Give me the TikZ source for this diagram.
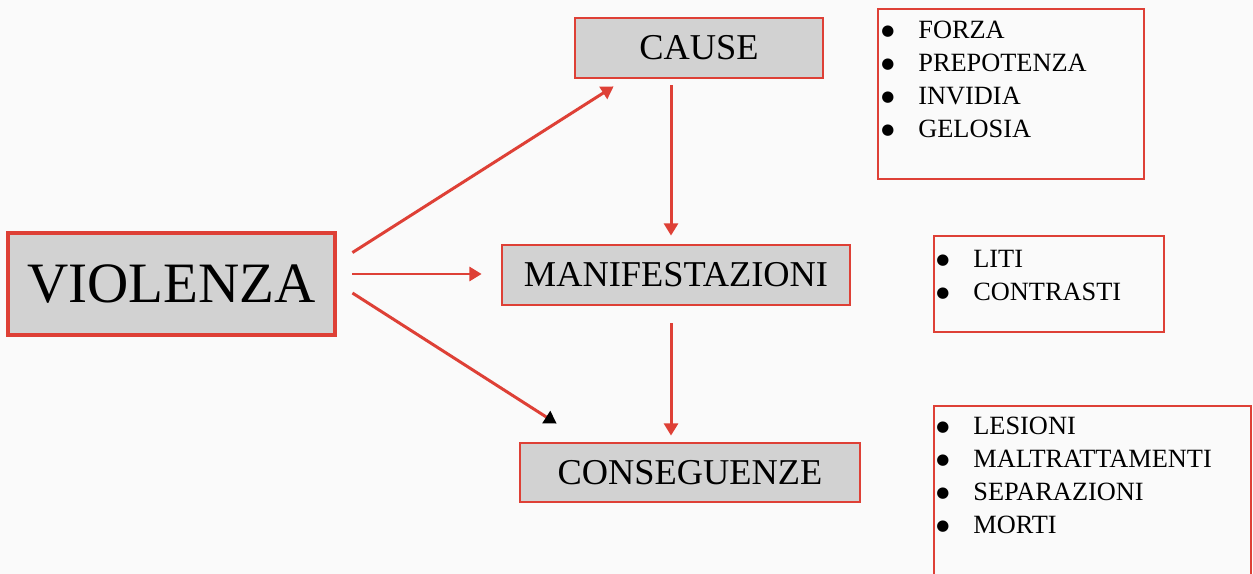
\documentclass[tikz,border=0pt]{standalone}
\usepackage{fontspec}
\setmainfont{Liberation Serif}
\newfontfamily\symfont{DejaVu Sans}
\usetikzlibrary{arrows.meta,calc,positioning}
\definecolor{boxred}{RGB}{222,64,54}
\definecolor{boxgray}{RGB}{210,210,210}
\definecolor{paper}{RGB}{250,250,250}
\newcommand{\bigdot}{\raisebox{1.6pt}{\symfont\fontsize{8.5}{10}\selectfont ●}}

\begin{document}
\begin{tikzpicture}[x=0.02cm,y=-0.02cm,
  titlebox/.style={draw=boxred,fill=boxgray,line width=1.6pt,inner sep=0pt,
    font=\fontsize{20.7}{24}\selectfont},
  listbox/.style={draw=boxred,line width=1.2pt,inner sep=0pt,anchor=north west},
  listtext/.style={anchor=north west,inner sep=0pt,font=\fontsize{15}{18.8}\selectfont},
  redarrow/.style={draw=boxred,line width=1.7pt,-{Triangle[length=7pt,width=8pt]}}]
 %page
 \useasboundingbox[fill=paper] (0,0) rectangle (1253,574);
 \clip (0,0) rectangle (1253,574);

 %centres of the boxes
 \coordinate (V) at (171.5,284);
 \coordinate (C) at (699,48);
 \coordinate (M) at (676,275);
 \coordinate (Q) at (690,472.5);

 %main boxes
 \node[titlebox,line width=2.8pt,minimum width=6.54cm,minimum height=2.04cm,
   font=\fontsize{32.5}{36}\selectfont] (violenza) at (V) {VIOLENZA};
 \node[titlebox,minimum width=4.96cm,minimum height=1.2cm] (cause) at (C) {CAUSE};
 \node[titlebox,minimum width=6.96cm,minimum height=1.2cm] (manifestazioni) at (M) {MANIFESTAZIONI};
 \node[titlebox,minimum width=6.8cm,minimum height=1.18cm] (conseguenze) at (Q) {CONSEGUENZE};

 %lists
 \node[listbox,minimum width=5.32cm,minimum height=3.4cm] (causelist) at (877,8) {};
 \node[listtext] (causetext) at ($(causelist.north west)+(4,7)$)
   {\begin{tabular}{@{}p{0.74cm}@{}l@{}}
    \bigdot & FORZA\\ \bigdot & PREPOTENZA\\ \bigdot & INVIDIA\\ \bigdot & GELOSIA
   \end{tabular}};
 \node[listbox,minimum width=4.6cm,minimum height=1.92cm] (maniflist) at (933,235) {};
 \node[listtext] (maniftext) at ($(maniflist.north west)+(3,9)$)
   {\begin{tabular}{@{}p{0.74cm}@{}l@{}}
    \bigdot & LITI\\ \bigdot & CONTRASTI
   \end{tabular}};
 \node[listbox,minimum width=6.34cm,minimum height=3.9cm] (conslist) at (933,405) {};
 \node[listtext] (constext) at ($(conslist.north west)+(3,6)$)
   {\begin{tabular}{@{}p{0.74cm}@{}l@{}}
    \bigdot & LESIONI\\ \bigdot & MALTRATTAMENTI\\ \bigdot & SEPARAZIONI\\ \bigdot & MORTI
   \end{tabular}};

 %arrows out of violenza
 \draw[redarrow] ($(violenza.north east)+(15,22)$) -- ($(cause.south west)+(40,7)$);
 \draw[redarrow] ($(violenza.east)+(15,-10)$) -- ($(manifestazioni.west)+(-19,-1)$);
 \draw[redarrow,-{Triangle[length=7pt,width=8pt,color=black]}]
   ($(violenza.east)+(15,9)$) -- ($(conseguenze.north west)+(38,-18)$);

 %arrows down the middle
 \draw[redarrow] ($(cause.south)+(-28,6)$) -- ($(manifestazioni.north)+(-5,-8)$);
 \draw[redarrow] ($(manifestazioni.south)+(-5,17)$) -- ($(conseguenze.north)+(-19,-6)$);
\end{tikzpicture}
\end{document}
